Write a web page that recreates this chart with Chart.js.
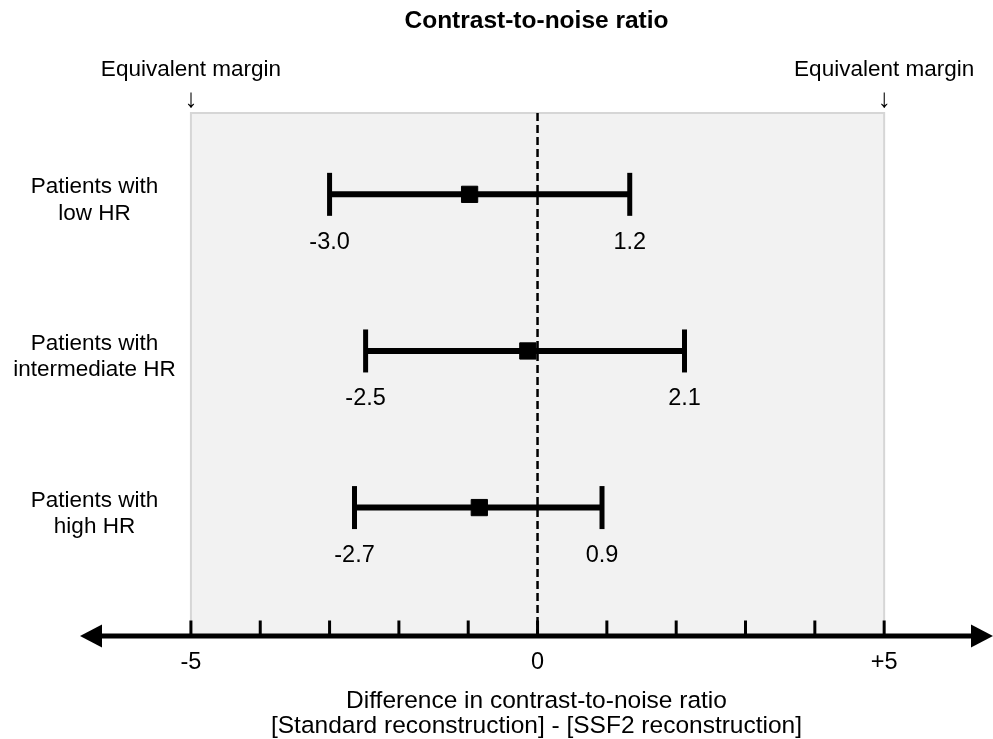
<!DOCTYPE html>
<html>
<head>
<meta charset="utf-8">
<title>Contrast-to-noise ratio</title>
<script src="https://cdn.jsdelivr.net/npm/chart.js@4.4.0/dist/chart.umd.min.js"></script>
<style>
  html, body { margin: 0; padding: 0; background: #fff; overflow: hidden; }
  #grafico { display: block; }
</style>
</head>
<body>
<canvas id="grafico" width="993" height="739"></canvas>
<script>
// datos
var categorias = [['Patients with', 'low HR'], ['Patients with', 'intermediate HR'], ['Patients with', 'high HR']];
var filas = [0, 1, 2];
var estimacion = [-0.98, -0.14, -0.84];
var limiteInferior = [-3.0, -2.48, -2.64];
var limiteSuperior = [1.33, 2.12, 0.93];
var textoInferior = ['-3.0', '-2.5', '-2.7'];
var textoSuperior = ['1.2', '2.1', '0.9'];
var valoresTicks = [-5, -4, -3, -2, -1, 0, 1, 2, 3, 4, 5];
var etiquetasTicks = { '-5': '-5', '0': '0', '5': '+5' };
var margenEquivalente = [-5, 5];
var tituloEje = ['Difference in contrast-to-noise ratio', '[Standard reconstruction] - [SSF2 reconstruction]'];

var fuente = "'Liberation Sans', Arial, sans-serif";
Chart.defaults.font.family = fuente;
Chart.defaults.color = '#000';

var datasets = [];

// lineas horizontales de cada intervalo
filas.forEach(function (fila, i) {
  datasets.push({
    type: 'line',
    data: [{ x: limiteInferior[i], y: fila }, { x: limiteSuperior[i], y: fila }],
    borderColor: '#000',
    borderWidth: 6,
    pointRadius: 0,
    fill: false
  });
});

// extremos verticales
var extremos = [];
filas.forEach(function (fila, i) {
  extremos.push({ x: limiteInferior[i], y: fila });
  extremos.push({ x: limiteSuperior[i], y: fila });
});
datasets.push({
  type: 'scatter',
  data: extremos,
  pointStyle: 'line',
  pointRotation: 90,
  pointRadius: 21.5,
  pointBorderWidth: 5,
  pointBorderColor: '#000'
});

// estimacion puntual
datasets.push({
  type: 'scatter',
  data: filas.map(function (fila, i) { return { x: estimacion[i], y: fila }; }),
  pointStyle: 'rect',
  pointRadius: 11.5,
  pointBackgroundColor: '#000',
  pointBorderColor: '#000',
  pointBorderWidth: 1
});

var decorado = {
  id: 'decorado',
  beforeDatasetsDraw: function (chart) {
    var c = chart.ctx, x = chart.scales.x, y = chart.scales.y, a = chart.chartArea;
    var x1 = x.getPixelForValue(margenEquivalente[0]);
    var x2 = x.getPixelForValue(margenEquivalente[1]);
    c.save();
    // zona gris entre margenes
    c.fillStyle = '#f2f2f2';
    c.fillRect(x1, a.top, x2 - x1, a.bottom - a.top);
    c.strokeStyle = '#d6d6d6';
    c.lineWidth = 2;
    c.beginPath();
    c.moveTo(x1, a.bottom);
    c.lineTo(x1, a.top);
    c.lineTo(x2, a.top);
    c.lineTo(x2, a.bottom);
    c.stroke();

    // linea discontinua en 0
    var x0 = x.getPixelForValue(0);
    c.setLineDash([8, 4]);
    c.strokeStyle = '#000';
    c.lineWidth = 2.5;
    c.beginPath();
    c.moveTo(x0, a.top);
    c.lineTo(x0, a.bottom);
    c.stroke();
    c.setLineDash([]);

    c.fillStyle = '#000';
    c.font = '22.5px ' + fuente;
    c.textAlign = 'center';
    c.textBaseline = 'alphabetic';
    margenEquivalente.forEach(function (v) {
      var px = x.getPixelForValue(v);
      c.fillText('Equivalent margin', px, a.top - 37);
    });
    c.font = '26px ' + fuente;
    margenEquivalente.forEach(function (v) {
      c.fillText('\u2193', x.getPixelForValue(v), a.top - 6);
    });

    // nombres de las filas
    c.font = '22.5px ' + fuente;
    filas.forEach(function (fila, i) {
      var py = y.getPixelForValue(fila);
      c.fillText(categorias[i][0], 94.5, py - 1);
      c.fillText(categorias[i][1], 94.5, py + 25.5);
    });
    c.restore();
  },
  afterDatasetsDraw: function (chart) {
    var c = chart.ctx, x = chart.scales.x, y = chart.scales.y, a = chart.chartArea;
    var y0 = a.bottom;
    c.save();
    c.strokeStyle = '#000';
    c.fillStyle = '#000';

    // eje con flechas
    c.lineWidth = 5;
    c.beginPath();
    c.moveTo(a.left + 15, y0);
    c.lineTo(a.right - 15, y0);
    c.stroke();
    c.beginPath();
    c.moveTo(a.left, y0);
    c.lineTo(a.left + 22, y0 - 11.5);
    c.lineTo(a.left + 22, y0 + 11.5);
    c.closePath();
    c.fill();
    c.beginPath();
    c.moveTo(a.right, y0);
    c.lineTo(a.right - 22, y0 - 11.5);
    c.lineTo(a.right - 22, y0 + 11.5);
    c.closePath();
    c.fill();

    // marcas hacia arriba
    c.lineWidth = 3;
    x.ticks.forEach(function (t) {
      var px = x.getPixelForValue(t.value);
      c.beginPath();
      c.moveTo(px, y0 - 15.5);
      c.lineTo(px, y0);
      c.stroke();
    });

    // valores de los limites
    c.font = '23.5px ' + fuente;
    c.textAlign = 'center';
    c.textBaseline = 'alphabetic';
    filas.forEach(function (fila, i) {
      var py = y.getPixelForValue(fila) + 54.5;
      c.fillText(textoInferior[i], x.getPixelForValue(limiteInferior[i]), py);
      c.fillText(textoSuperior[i], x.getPixelForValue(limiteSuperior[i]), py);
    });
    c.restore();
  }
};

var ctx = document.getElementById('grafico').getContext('2d');
var chart = new Chart(ctx, {
  type: 'scatter',
  data: { datasets: datasets },
  options: {
    responsive: false,
    animation: false,
    events: [],
    layout: { autoPadding: false, padding: { left: 80, right: 0, top: 0, bottom: 0 } },
    plugins: {
      legend: { display: false },
      tooltip: { enabled: false },
      title: {
        display: true,
        text: 'Contrast-to-noise ratio',
        color: '#000',
        font: { size: 24.5, weight: 'bold' },
        padding: { top: 7, bottom: 76.5 }
      }
    },
    scales: {
      x: {
        type: 'linear',
        min: -6.6,
        max: 6.57,
        afterBuildTicks: function (s) {
          s.ticks = valoresTicks.map(function (v) { return { value: v }; });
        },
        afterFit: function (s) { s.height = 103; },
        grid: { display: false, drawTicks: false },
        border: { display: false },
        ticks: {
          autoSkip: false,
          maxRotation: 0,
          padding: 12,
          font: { size: 23.5 },
          callback: function (v) { return etiquetasTicks[v] || ''; }
        },
        title: {
          display: true,
          text: tituloEje,
          font: { size: 24.5, lineHeight: 1.03 },
          padding: { top: 0, bottom: 0 }
        }
      },
      y: {
        type: 'linear',
        reverse: true,
        min: -0.52,
        max: 2.82,
        display: false
      }
    }
  },
  plugins: [decorado]
});
</script>
</body>
</html>
